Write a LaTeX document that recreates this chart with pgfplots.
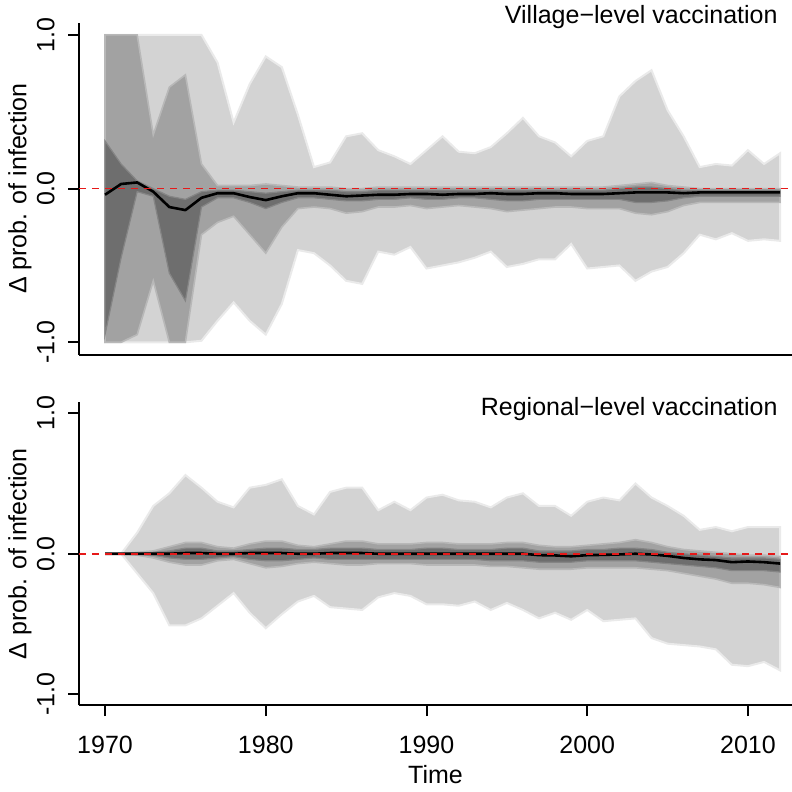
\documentclass[border=0pt]{standalone}
\usepackage{pgfplots}
\pgfplotsset{compat=1.18}
\usepackage{pgfplotstable}
\usepgfplotslibrary{fillbetween}
\usepackage{fontspec}
\setmainfont{Liberation Sans}

\definecolor{lightband}{HTML}{D3D3D3}
\definecolor{lightedge}{HTML}{EAEAEA}
\definecolor{midband}{HTML}{A2A2A2}
\definecolor{midedge}{HTML}{B8B8B8}
\definecolor{darkband}{HTML}{6E6E6E}
\definecolor{darkedge}{HTML}{858585}
\definecolor{refred}{RGB}{230,25,25}

\pgfplotstableread{
yr lu ll mu ml du dl med
1970 1.00 -1.00 1.00 -1.00 0.31 -0.95 -0.04
1971 1.00 -1.00 1.00 -1.00 0.16 -0.45 0.03
1972 1.00 -1.00 1.00 -0.95 0.05 -0.02 0.04
1973 1.00 -1.00 0.35 -0.60 0.00 -0.05 -0.02
1974 1.00 -1.00 0.66 -1.00 -0.05 -0.55 -0.12
1975 1.00 -1.00 0.74 -1.00 -0.07 -0.73 -0.14
1976 1.00 -0.99 0.16 -0.30 -0.02 -0.12 -0.06
1977 0.82 -0.86 0.02 -0.22 -0.01 -0.06 -0.03
1978 0.43 -0.74 0.02 -0.18 -0.01 -0.06 -0.03
1979 0.68 -0.86 0.02 -0.30 -0.02 -0.09 -0.055
1980 0.86 -0.95 0.03 -0.42 -0.03 -0.13 -0.075
1981 0.79 -0.75 0.02 -0.25 -0.02 -0.09 -0.05
1982 0.48 -0.40 0.01 -0.13 -0.01 -0.06 -0.03
1983 0.14 -0.42 0.01 -0.12 -0.01 -0.06 -0.03
1984 0.17 -0.50 0.01 -0.13 -0.01 -0.07 -0.04
1985 0.34 -0.60 0.00 -0.16 -0.02 -0.08 -0.05
1986 0.36 -0.62 0.00 -0.15 -0.02 -0.08 -0.045
1987 0.25 -0.41 0.01 -0.12 -0.01 -0.07 -0.04
1988 0.21 -0.43 0.01 -0.12 -0.01 -0.07 -0.04
1989 0.16 -0.38 0.01 -0.11 -0.01 -0.06 -0.035
1990 0.25 -0.52 0.01 -0.13 -0.01 -0.07 -0.035
1991 0.34 -0.50 0.01 -0.12 -0.01 -0.07 -0.04
1992 0.24 -0.48 0.01 -0.11 -0.01 -0.06 -0.035
1993 0.23 -0.45 0.01 -0.12 -0.01 -0.06 -0.035
1994 0.27 -0.41 0.01 -0.13 -0.01 -0.07 -0.03
1995 0.36 -0.51 0.01 -0.15 -0.01 -0.08 -0.035
1996 0.46 -0.49 0.01 -0.14 -0.01 -0.08 -0.035
1997 0.34 -0.46 0.01 -0.13 -0.01 -0.07 -0.03
1998 0.30 -0.46 0.01 -0.12 -0.01 -0.07 -0.03
1999 0.21 -0.36 0.01 -0.12 -0.01 -0.07 -0.035
2000 0.31 -0.52 0.01 -0.13 -0.01 -0.07 -0.035
2001 0.34 -0.51 0.01 -0.13 -0.01 -0.07 -0.035
2002 0.60 -0.50 0.02 -0.13 0.00 -0.07 -0.03
2003 0.70 -0.60 0.03 -0.16 0.01 -0.09 -0.025
2004 0.77 -0.54 0.04 -0.17 0.01 -0.09 -0.025
2005 0.51 -0.51 0.02 -0.15 0.00 -0.08 -0.025
2006 0.34 -0.42 0.01 -0.11 -0.01 -0.06 -0.03
2007 0.14 -0.30 0.00 -0.09 -0.01 -0.05 -0.025
2008 0.16 -0.33 0.00 -0.09 -0.01 -0.05 -0.025
2009 0.15 -0.29 0.00 -0.09 -0.01 -0.05 -0.025
2010 0.25 -0.34 0.00 -0.09 -0.01 -0.05 -0.025
2011 0.16 -0.33 0.00 -0.09 -0.01 -0.05 -0.025
2012 0.23 -0.34 0.00 -0.09 -0.01 -0.05 -0.025
}\village

\pgfplotstableread{
yr lu ll mu ml du dl med
1970 0.00 0.00 0.00 0.00 0.00 0.00 0.000
1971 0.00 0.00 0.00 0.00 0.00 0.00 0.000
1972 0.15 -0.14 0.01 -0.01 0.00 0.00 0.000
1973 0.34 -0.28 0.02 -0.03 0.01 -0.01 0.000
1974 0.43 -0.51 0.05 -0.06 0.02 -0.03 0.000
1975 0.56 -0.51 0.08 -0.08 0.04 -0.04 0.005
1976 0.47 -0.46 0.08 -0.08 0.04 -0.04 0.005
1977 0.37 -0.37 0.05 -0.05 0.02 -0.03 0.000
1978 0.33 -0.28 0.04 -0.04 0.02 -0.02 0.000
1979 0.47 -0.42 0.07 -0.07 0.03 -0.04 0.005
1980 0.49 -0.53 0.09 -0.10 0.04 -0.05 0.005
1981 0.53 -0.43 0.09 -0.09 0.04 -0.05 0.005
1982 0.34 -0.34 0.06 -0.07 0.03 -0.04 0.000
1983 0.28 -0.30 0.05 -0.06 0.03 -0.03 0.000
1984 0.44 -0.38 0.07 -0.07 0.04 -0.04 0.005
1985 0.47 -0.39 0.09 -0.08 0.04 -0.04 0.005
1986 0.47 -0.40 0.09 -0.08 0.04 -0.04 0.005
1987 0.31 -0.31 0.07 -0.07 0.03 -0.04 0.000
1988 0.37 -0.28 0.07 -0.07 0.03 -0.04 0.000
1989 0.31 -0.30 0.07 -0.07 0.03 -0.04 0.000
1990 0.40 -0.36 0.08 -0.08 0.04 -0.04 0.000
1991 0.42 -0.36 0.08 -0.08 0.04 -0.04 0.000
1992 0.38 -0.37 0.07 -0.08 0.03 -0.04 0.000
1993 0.37 -0.34 0.07 -0.08 0.03 -0.04 0.000
1994 0.33 -0.40 0.07 -0.09 0.03 -0.05 0.000
1995 0.40 -0.35 0.08 -0.09 0.04 -0.05 0.000
1996 0.43 -0.40 0.08 -0.10 0.04 -0.05 0.000
1997 0.34 -0.46 0.06 -0.11 0.02 -0.06 -0.010
1998 0.34 -0.42 0.05 -0.11 0.02 -0.06 -0.012
1999 0.27 -0.47 0.05 -0.11 0.02 -0.06 -0.018
2000 0.37 -0.40 0.06 -0.10 0.03 -0.05 -0.010
2001 0.40 -0.48 0.07 -0.10 0.03 -0.05 -0.008
2002 0.38 -0.47 0.08 -0.10 0.04 -0.05 -0.005
2003 0.50 -0.46 0.10 -0.10 0.04 -0.05 0.000
2004 0.40 -0.60 0.08 -0.11 0.03 -0.06 -0.005
2005 0.34 -0.64 0.05 -0.12 0.01 -0.07 -0.015
2006 0.27 -0.65 0.03 -0.14 0.00 -0.08 -0.030
2007 0.17 -0.66 0.02 -0.16 -0.01 -0.09 -0.040
2008 0.19 -0.68 0.01 -0.18 -0.02 -0.10 -0.045
2009 0.16 -0.79 0.00 -0.21 -0.03 -0.12 -0.060
2010 0.19 -0.80 -0.01 -0.21 -0.03 -0.12 -0.055
2011 0.19 -0.77 -0.01 -0.22 -0.03 -0.12 -0.060
2012 0.19 -0.83 -0.02 -0.24 -0.04 -0.13 -0.070
}\regional

\pgfplotsset{
  panel/.style={
    scale only axis, width=356.5pt,
    xmin=1968.38, xmax=2012.74, ymin=-1.08, ymax=1.08,
    axis x line*=bottom, axis y line*=left,
    axis line style={line width=1pt, -},
    tick align=outside, major tick length=5.3pt,
    tick style={line width=1pt, black},
    ytick={-1,0,1}, yticklabels={-1.0,0.0,1.0},
    yticklabel style={rotate=90, anchor=base, inner sep=0pt},
    yticklabel shift=7pt,
    every axis y label/.style={at={([xshift=-26.25pt]axis description cs:0,0.5)}, rotate=90, anchor=base, inner sep=0pt},
    ylabel={Δ prob. of infection},
  },
}

\newcommand{\bands}[1]{%
  \addplot[draw=none, name path=LU] table[x=yr, y=lu] {#1};
  \addplot[draw=none, name path=LL] table[x=yr, y=ll] {#1};
  \addplot[fill=lightband, draw=lightedge, line width=1pt] fill between[of=LU and LL];
  \addplot[draw=none, name path=MU] table[x=yr, y=mu] {#1};
  \addplot[draw=none, name path=ML] table[x=yr, y=ml] {#1};
  \addplot[fill=midband, draw=midedge, line width=0.8pt] fill between[of=MU and ML];
  \addplot[draw=none, name path=DU] table[x=yr, y=du] {#1};
  \addplot[draw=none, name path=DL] table[x=yr, y=dl] {#1};
  \addplot[fill=darkband, draw=darkedge, line width=0.6pt] fill between[of=DU and DL];
  \addplot[draw=black, line width=1.3pt, line join=round] table[x=yr, y=med] {#1};
  \addplot[draw=refred, line width=0.9pt, dash pattern=on 3.5pt off 3pt, forget plot] coordinates {(1968.38,0) (2012.74,0)};
}

\begin{document}
\begin{tikzpicture}[font=\fontsize{12.5}{15}\selectfont]
\begin{axis}[panel, name=bot, at={(0,0)}, anchor=south west, height=151.75pt,
  xtick={1970,1980,1990,2000,2010}, xticklabels={1970,1980,1990,2000,2010},
  xticklabel style={anchor=base, inner sep=0pt}, xticklabel shift=18.5pt,
  every axis x label/.style={at={([yshift=-38.75pt]axis description cs:0.5,0)}, anchor=base, inner sep=0pt},
  xlabel={Time}]
\bands{\regional}
\end{axis}
\begin{axis}[panel, name=top, at={(0,175.45pt)}, anchor=south west, height=166pt,
  xtick=\empty]
\bands{\village}
\end{axis}
\node[anchor=base east, inner sep=0pt] at ([xshift=-7pt, yshift=-0.65pt]top.north east) {Village−level vaccination};
\node[anchor=base east, inner sep=0pt] at ([xshift=-7pt, yshift=-7pt]bot.north east) {Regional−level vaccination};
\pgfresetboundingbox
\path[use as bounding box] (-39.5pt,-43.25pt) rectangle (356.5pt,352.75pt);
\end{tikzpicture}
\end{document}
